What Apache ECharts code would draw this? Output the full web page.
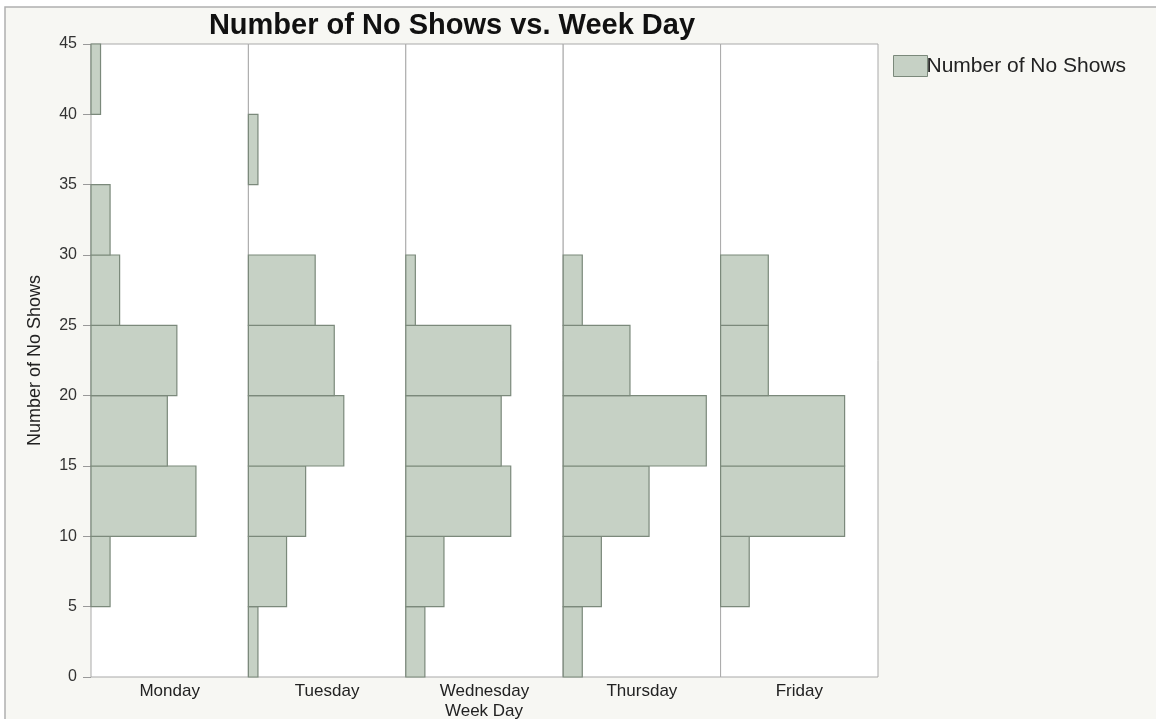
<!DOCTYPE html>
<html>
<head>
<meta charset="utf-8">
<script src="https://cdn.jsdelivr.net/npm/echarts@6/dist/echarts.min.js"></script>
<style>html,body{margin:0;padding:0;background:#fff;}#c{width:1156px;height:719px;}</style>
</head>
<body>
<div id="c"></div>
<script>
// Data
const binStarts = [0, 5, 10, 15, 20, 25, 30, 35, 40];
const binWidth = 5;
const weekDays = ['Monday', 'Tuesday', 'Wednesday', 'Thursday', 'Friday'];
const monday    = [0, 2, 11, 8, 9, 3, 2, 0, 1];
const tuesday   = [1, 4, 6, 10, 9, 7, 0, 1, 0];
const wednesday = [2, 4, 11, 10, 11, 1, 0, 0, 0];
const thursday  = [2, 4, 9, 15, 7, 2, 0, 0, 0];
const friday    = [0, 3, 13, 13, 5, 5, 0, 0, 0];
const yTicks = [0, 5, 10, 15, 20, 25, 30, 35, 40, 45];
const seriesName = 'Number of No Shows';

const counts = [monday, tuesday, wednesday, thursday, friday];
const fill = '#c6d1c5';
const stroke = '#7b897b';
const FONT = 'Liberation Sans';

const plotLeft = 91, plotTop = 44, plotBottomY = 677, plotRight = 878;
const panelW = (plotRight - plotLeft) / weekDays.length;

const grids = [], xAxes = [], yAxes = [], series = [];
weekDays.forEach((day, i) => {
  grids.push({
    left: plotLeft + i * panelW, top: plotTop, width: panelW, height: plotBottomY - plotTop,
    show: true, backgroundColor: '#ffffff', borderColor: '#a9a9a9', borderWidth: 1
  });
  xAxes.push({
    gridIndex: i, type: 'value', min: 0, max: 16.5,
    axisLine: {show: false}, axisTick: {show: false}, axisLabel: {show: false}, splitLine: {show: false},
    name: day, nameLocation: 'middle', nameGap: 6,
    nameTextStyle: {fontFamily: FONT, fontSize: 17, color: '#222'}
  });
  yAxes.push({
    gridIndex: i, type: 'value', min: yTicks[0], max: yTicks[yTicks.length - 1], interval: 5,
    axisLine: {show: false},
    axisTick: {show: i === 0, length: 8, lineStyle: {color: '#999'}},
    axisLabel: {show: i === 0, fontFamily: FONT, fontSize: 16, color: '#333', margin: 14},
    splitLine: {show: false},
    name: i === 0 ? 'Number of No Shows' : '', nameLocation: 'middle', nameGap: 47,
    nameTextStyle: {fontFamily: FONT, fontSize: 18, color: '#222'}
  });
  series.push({
    type: 'custom', name: seriesName, xAxisIndex: i, yAxisIndex: i,
    itemStyle: {color: fill, borderColor: stroke, borderWidth: 1},
    encode: {x: 0, y: [1, 2]},
    data: binStarts.map((b, k) => [counts[i][k], b, b + binWidth]).filter(d => d[0] > 0),
    renderItem: function (params, api) {
      const p1 = api.coord([0, api.value(1)]);
      const p2 = api.coord([api.value(0), api.value(2)]);
      return {
        type: 'rect',
        shape: {x: p1[0], y: p2[1], width: p2[0] - p1[0], height: p1[1] - p2[1]},
        style: {fill: fill, stroke: stroke, lineWidth: 1.2}
      };
    }
  });
});

const chart = echarts.init(document.getElementById('c'));
chart.setOption({
  backgroundColor: '#ffffff',
  animation: false,
  graphic: [
    {type: 'rect', z: -10, shape: {x: 5, y: 7, width: 1200, height: 800},
     style: {fill: '#f7f7f3', stroke: '#b0b0b0', lineWidth: 1.5}},
    {type: 'text', x: 484, y: 711, style: {text: 'Week Day', font: '17px "Liberation Sans"', fill: '#222', align: 'center', verticalAlign: 'middle'}}
  ],
  title: {
    text: 'Number of No Shows vs. Week Day', left: 447, top: 6, textAlign: 'center',
    textStyle: {fontFamily: FONT, fontWeight: 'bold', fontSize: 29, color: '#111'}
  },
  legend: {
    data: [seriesName], left: 888, top: 50, orient: 'vertical',
    icon: 'rect', itemWidth: 34, itemHeight: 21, itemGap: 4,
    itemStyle: {color: fill, borderColor: stroke, borderWidth: 1},
    textStyle: {fontFamily: FONT, fontSize: 21, color: '#222', padding: [0, 0, 0, -6]}
  },
  grid: grids, xAxis: xAxes, yAxis: yAxes, series: series
});
</script>
</body>
</html>
